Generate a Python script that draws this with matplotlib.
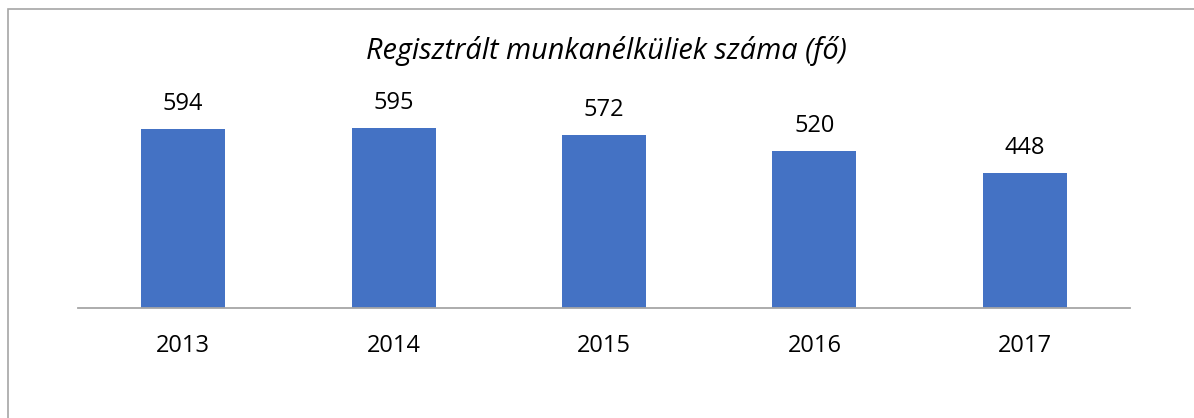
import matplotlib
matplotlib.use("Agg")
import matplotlib.pyplot as plt
from matplotlib.patches import Rectangle

years = ["2013", "2014", "2015", "2016", "2017"]
values = [594, 595, 572, 520, 448]
title = "Regisztrált munkanélküliek száma (fő)"

W, H = 1194, 418
fig = plt.figure(figsize=(W / 100, H / 100), dpi=100)
plt.rcParams['font.family'] = ['Open Sans', 'DejaVu Sans']

# outer border (clipped on right and bottom)
fig.patches.append(Rectangle((8 / W, -0.1), 1.2, (H - 9.5) / H + 0.1, transform=fig.transFigure,
                             fill=False, edgecolor="#a6a6a6", linewidth=1.2))

ax_left, ax_right = 78 / W, 1130 / W
ax_bottom = (H - 307.7) / H
ax_top = (H - 88) / H
ax = fig.add_axes([ax_left, ax_bottom, ax_right - ax_left, ax_top - ax_bottom])

x = list(range(len(years)))
ax.bar(x, values, width=0.4, color="#4472C4")
ax.set_xlim(-0.5, len(years) - 0.5)
ax.set_ylim(0, 729)

for xi, v in zip(x, values):
    ax.annotate(str(v), (xi, v), xytext=(0, 13.7), textcoords="offset points",
                ha="center", va="baseline", fontsize=17, color="#000000")

for s in ["top", "left", "right"]:
    ax.spines[s].set_visible(False)
ax.spines["bottom"].set_color("#a6a6a6")
ax.spines["bottom"].set_linewidth(1.3)
ax.set_yticks([])
ax.set_xticks(x)
ax.set_xticklabels(years, fontsize=17)
ax.tick_params(axis="x", length=0, pad=31.7)
for lbl in ax.get_xticklabels():
    lbl.set_va("baseline")

fig.text(606 / W, (H - 59) / H, title, ha="center", va="baseline",
         fontsize=20.8, style="italic")

fig.savefig("out.png", dpi=100)
